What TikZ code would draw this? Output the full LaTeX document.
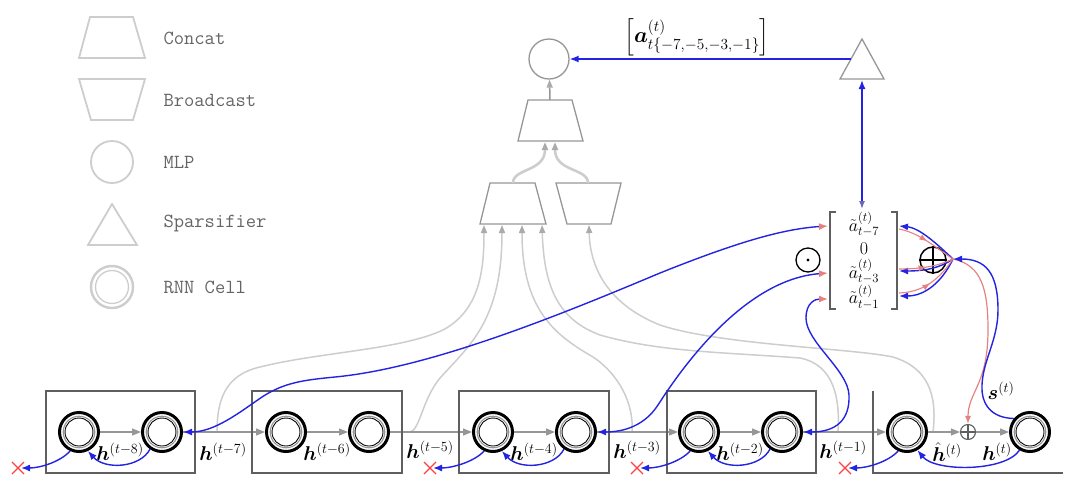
\RequirePackage{fix-cm}
\documentclass[tikz,border=0pt]{standalone}
\usepackage{amsmath,bm}
\usepackage{fontspec}
\usetikzlibrary{arrows.meta,decorations.markings}
\definecolor{bl}{RGB}{35,35,225}
\definecolor{pk}{RGB}{228,130,130}
\definecolor{lg}{RGB}{205,205,205}
\definecolor{mg}{RGB}{150,150,150}
\definecolor{dg}{RGB}{95,95,95}
\definecolor{tg}{RGB}{100,100,100}
\newcommand\rnncell[2]{%
  \node[cellnode] (#1) at (#2,432) {};
  \draw[mg, line width=1.1pt] (#1.center) circle (15.8);
  \draw[black, line width=0.9pt] (#1.center) circle (14);
}
\begin{document}
\begin{tikzpicture}[x=1pt,y=-1pt,
  legshape/.style={draw=lg, line width=1.8pt},
  legtext/.style={anchor=west, text=tg, font=\fontsize{20}{22}\selectfont\ttfamily},
  topshape/.style={draw=mg, line width=1.3pt},
  cellnode/.style={circle, draw=black, line width=3pt, minimum size=39pt, inner sep=0pt},
  box/.style={draw=dg, line width=1.4pt},
  lab/.style={font=\fontsize{20}{22}\selectfont, inner sep=0pt},
  ment/.style={font=\fontsize{18}{20}\selectfont, inner sep=0pt, anchor=base},
  chain/.style={draw=mg, line width=1.2pt, -{Triangle[length=9pt,width=7pt]}},
  feed/.style={draw=lg, line width=1.5pt, -{Triangle[length=8pt,width=6pt,color=mg!80]}},
  back/.style={draw=bl, line width=1.4pt, -{Latex[length=9pt,width=7pt]}},
  grad/.style={draw=bl, line width=1.4pt, arrows={Latex[length=9pt,width=7pt]-Latex[length=9pt,width=7pt,color=pk]}},
  pfwd/.style={draw=pk, line width=1.1pt, postaction={decorate}, decoration={markings, mark=at position 0.5 with {\arrow{Latex[length=8pt,width=6pt]}}}},
  xmark/.style={draw=red!75, line width=1.1pt},
]
\useasboundingbox (0,0) rectangle (1080,496);
% ---------------- legend
\draw[legshape] (90,17) -- (133,17) -- (145,58) -- (79,58) -- cycle;
\node[legtext] (lcat) at (160,38) {Concat};
\draw[legshape] (79,79) -- (145,79) -- (133,120) -- (91,120) -- cycle;
\node[legtext] (lbc) at (160,100) {Broadcast};
\draw[legshape] (112,162) circle (21);
\node[legtext] (lmlp) at (160,162) {MLP};
\draw[legshape] (112,204) -- (137,245) -- (88,245) -- cycle;
\node[legtext] (lsp) at (160,223) {Sparsifier};
\draw[legshape, line width=2.4pt] (112,287) circle (21);
\draw[legshape, line width=1.3pt] (112,287) circle (16.5);
\node[legtext] (lrnn) at (160,287) {RNN Cell};
% ---------------- junction coordinates
\coordinate (j7) at (217,432);
\coordinate (j5) at (410,432);
\coordinate (j3) at (632,432);
\coordinate (j1) at (838,432);
\coordinate (jh) at (933,432);
\coordinate (in1) at (484,225);
\coordinate (in2) at (502,225);
\coordinate (in3) at (522,225);
\coordinate (in4) at (542,225);
\coordinate (bin) at (589,225);
% ---------------- feed curves (light gray)
\draw[feed] (j7) .. controls (217,400) and (225,375) .. (260,367) .. controls (320,352) and (400,350) .. (443,330) .. controls (480,310) and (484,270) .. (in1);
\draw[feed] (j5) .. controls (420,430) and (422,400) .. (440,378) .. controls (470,345) and (502,320) .. (in2);
\draw[feed] (j3) .. controls (634,405) and (620,375) .. (593,357) .. controls (555,335) and (522,310) .. (in3);
\draw[feed] (j1) .. controls (840,400) and (835,365) .. (800,358) .. controls (720,352) and (660,352) .. (600,335) .. controls (560,320) and (544,290) .. (in4);
\draw[feed] (jh) .. controls (936,405) and (935,370) .. (893,357) .. controls (850,348) and (720,345) .. (660,325) .. controls (610,305) and (590,270) .. (bin);
% ---------------- top: MLP, concat, broadcast
\node[topshape, circle, minimum size=40pt, inner sep=0pt] (mlp) at (549,59) {};
\draw[topshape] (528,100) -- (572,100) -- (583,141) -- (518,141) -- cycle;
\coordinate (cattop) at (550,100);
\coordinate (catinL) at (545,142);
\coordinate (catinR) at (555,142);
\draw[topshape] (490,183) -- (535,183) -- (546,224) -- (480,224) -- cycle;
\coordinate (lcattop) at (513,183);
\draw[topshape] (556,183) -- (621,183) -- (611,224) -- (567,224) -- cycle;
\coordinate (bctop) at (588,183);
\draw[feed, draw=mg] (cattop) -- (mlp);
\draw[feed, line width=2.6pt] (lcattop) .. controls (513,168) and (545,172) .. (catinL);
\draw[feed, line width=2.6pt] (bctop) .. controls (588,168) and (555,172) .. (catinR);
% ---------------- sparsifier
\draw[topshape] (862,39) -- (884,79) -- (840,79) -- cycle;
\coordinate (spl) at (851,59);
\coordinate (spb) at (862,80);
\draw[back] (spl) -- (mlp);
\node[lab, font=\fontsize{22}{24}\selectfont] (alab) at (697,37) {$\left[\bm a^{(t)}_{t\{-7,-5,-3,-1\}}\right]$};
% ---------------- matrix
\coordinate (mtop) at (862,209);
\draw[bl, line width=1.4pt, arrows={Latex[length=9pt,width=7pt]-Latex[length=8pt,width=6pt,color=mg!60!bl]}] (spb) -- (mtop);
\draw[dg, line width=1.3pt] (836,212) -- (830,212) -- (830,309) -- (836,309);
\draw[dg, line width=1.3pt] (891,212) -- (897,212) -- (897,309) -- (891,309);
\node[ment] (m7) at (864,231) {$\tilde a^{(t)}_{t-7}$};
\node[ment] (m0) at (864,254) {$0$};
\node[ment] (m3) at (864,278) {$\tilde a^{(t)}_{t-3}$};
\node[ment] (m1) at (864,303.5) {$\tilde a^{(t)}_{t-1}$};
\coordinate (m7w) at (828,226);
\coordinate (m3w) at (828,273);
\coordinate (m1w) at (828,299);
\coordinate (m7e) at (899,226);
\coordinate (m3e) at (899,271);
\coordinate (m1e) at (899,296);
\node[circle, draw=black, line width=1.3pt, minimum size=24pt, inner sep=0pt] (odot) at (808,260) {};
\fill (odot.center) circle (1.6);
\node[circle, draw=black, line width=1.5pt, minimum size=26pt, inner sep=0pt] (oplus) at (933,260) {};
\draw[black, line width=1.5pt] (oplus.north) -- (oplus.south) (oplus.west) -- (oplus.east);
\coordinate (opr) at (953,259);
% ---------------- cells
\rnncell{c1}{79}
\rnncell{c2}{162}
\rnncell{c3}{286}
\rnncell{c4}{369}
\rnncell{c5}{493}
\rnncell{c6}{576}
\rnncell{c7}{699}
\rnncell{c8}{782}
\rnncell{c9}{907}
\rnncell{c10}{1030}
\node[circle, draw=dg, line width=1.1pt, minimum size=15pt, inner sep=0pt] (sp) at (968,432) {};
\draw[dg, line width=1.1pt] (sp.north) -- (sp.south) (sp.west) -- (sp.east);
\draw[chain] (c1) -- (c2);
\draw[chain] (c2) -- (c3);
\draw[chain] (c3) -- (c4);
\draw[chain] (c4) -- (c5);
\draw[chain] (c5) -- (c6);
\draw[chain] (c6) -- (c7);
\draw[chain] (c7) -- (c8);
\draw[chain] (c8) -- (c9);
\draw[chain] (c9) -- (sp);
\draw[chain] (sp) -- (c10);
% ---------------- boxes
\draw[box] (46,391) rectangle (195,473);
\draw[box] (252,391) rectangle (402,473);
\draw[box] (459,391) rectangle (609,473);
\draw[box] (667,391) rectangle (816,473);
\draw[box] (873,391) -- (873,473) -- (1063,473);
% ---------------- labels
\node[lab] (h8) at (120,452) {$\bm h^{(t-8)}$};
\node[lab] (h7) at (223,452) {$\bm h^{(t-7)}$};
\node[lab] (h6) at (327,452) {$\bm h^{(t-6)}$};
\node[lab] (h5) at (430,450) {$\bm h^{(t-5)}$};
\node[lab] (h4) at (534,452) {$\bm h^{(t-4)}$};
\node[lab] (h3) at (637,450) {$\bm h^{(t-3)}$};
\node[lab] (h2) at (740,452) {$\bm h^{(t-2)}$};
\node[lab] (h1) at (843,450) {$\bm h^{(t-1)}$};
\node[lab] (hh) at (947,452) {$\hat{\bm h}^{(t)}$};
\node[lab] (ht) at (997,452) {$\bm h^{(t)}$};
\node[lab] (st) at (1001,391) {$\bm s^{(t)}$};
% ---------------- X marks
\coordinate (x1) at (18,468);
\coordinate (x3) at (430,468);
\coordinate (x4) at (637,468);
\coordinate (x5) at (845,468);
\foreach \X in {x1,x3,x4,x5}{
  \draw[xmark] (\X) +(-6,-6) -- +(6,6) (\X) +(-6,6) -- +(6,-6);
}
% ---------------- blue back arrows in boxes
\draw[back] (c2.-125) .. controls (140,468) and (105,470) .. (c1.-65);
\draw[back, shorten >=3pt] (c1.-115) .. controls (60,462) and (40,468) .. (x1);
\draw[back] (c6.-125) .. controls (554,468) and (519,470) .. (c5.-65);
\draw[back, shorten >=3pt] (c5.-115) .. controls (474,462) and (452,468) .. (x3);
\draw[back] (c8.-125) .. controls (760,468) and (725,470) .. (c7.-65);
\draw[back, shorten >=3pt] (c7.-115) .. controls (680,462) and (659,468) .. (x4);
\draw[back] (c10.-120) .. controls (1005,472) and (935,472) .. (c9.-60);
\draw[back, shorten >=3pt] (c9.-115) .. controls (888,462) and (867,468) .. (x5);
% ---------------- gradient curves into the matrix
\draw[grad] (c2.east) .. controls (215,432) and (240,412) .. (262,397) .. controls (285,382) and (305,380) .. (335,377) .. controls (430,368) and (560,315) .. (660,273) .. controls (730,245) and (780,229) .. (m7w);
\draw[grad] (c6.east) .. controls (625,432) and (645,425) .. (658,405) .. controls (690,355) and (750,279) .. (m3w);
\draw[grad] (c8.east) .. controls (836,432) and (850,420) .. (849,395) .. controls (848,370) and (806,342) .. (806,318) .. controls (806,303) and (815,299) .. (m1w);
% ---------------- oplus to matrix
\draw[back] (opr) .. controls (938,245) and (920,228) .. (m7e);
\draw[back] (opr) .. controls (940,268) and (925,271) .. (m3e);
\draw[back] (opr) .. controls (942,282) and (925,296) .. (m1e);
\draw[pfwd] (m7e) ++(0,3) .. controls (920,233) and (936,248) .. (opr);
\draw[pfwd] (m3e) ++(0,-2) .. controls (925,269) and (940,265) .. (opr);
\draw[pfwd] (m1e) ++(0,-3) .. controls (925,292) and (940,278) .. (opr);
% ---------------- s(t) path and pink into small oplus
\draw[draw=pk, line width=1.2pt, -{Latex[length=8pt,width=6pt]}] (opr) .. controls (982,265) and (988,290) .. (988,330) .. controls (988,385) and (968,392) .. (sp);
\draw[back] (c10.140) .. controls (992,418) and (981,405) .. (982,385) .. controls (983,360) and (998,340) .. (998,310) .. controls (998,272) and (985,259) .. (opr);
\end{tikzpicture}
\end{document}
